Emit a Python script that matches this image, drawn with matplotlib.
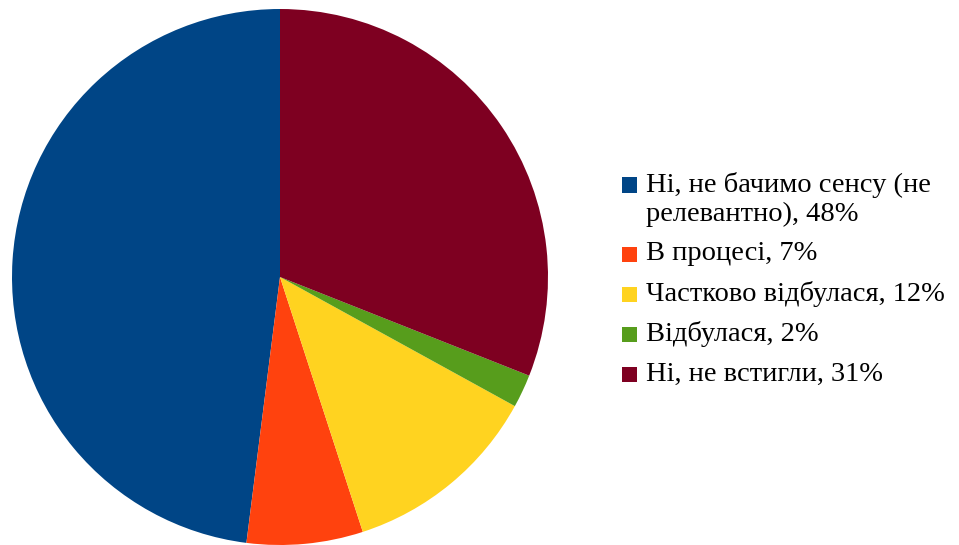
import matplotlib.pyplot as plt
from matplotlib.patches import Rectangle
from matplotlib import font_manager
from matplotlib.font_manager import FontProperties

labels = ['Ні, не бачимо сенсу (не\nрелевантно), 48%', 'В процесі, 7%',
          'Частково відбулася, 12%', 'Відбулася, 2%', 'Ні, не встигли, 31%']
values = [48, 7, 12, 2, 31]
colors = ['#004586', '#ff420e', '#ffd320', '#579d1c', '#7e0021']

# pick the Times-like serif file directly
serif_files = [f.fname for f in font_manager.fontManager.ttflist
               if 'liberationserif-regular' in f.fname.lower().replace('_', '')]
if serif_files:
    fp = FontProperties(fname=serif_files[0], size=20.5)
else:
    fp = FontProperties(family=['Liberation Serif', 'DejaVu Serif'], size=20.5)

W, H = 959, 545
fig = plt.figure(figsize=(W / 100, H / 100), dpi=100)

# pie: center (280, 277), radius 268 px
cx, cy, r = 280, 277, 268
ax = fig.add_axes([(cx - r) / W, (H - cy - r) / H, 2 * r / W, 2 * r / H])
ax.pie(values, colors=colors, startangle=90, counterclock=True,
       wedgeprops=dict(linewidth=0))
ax.set_xlim(-1, 1)
ax.set_ylim(-1, 1)
ax.set_aspect('equal')
ax.axis('off')

# legend drawn by hand
rows = [(185, 214), (254,), (294,), (334,), (374,)]
for lab, col, ys in zip(labels, colors, rows):
    lines = lab.split('\n')
    sq = 15
    fig.add_artist(Rectangle((622 / W, (H - ys[0] - sq / 2) / H), sq / W, sq / H,
                             transform=fig.transFigure, facecolor=col, edgecolor='none'))
    for y, t in zip(ys, lines):
        fig.text(646 / W, (H - y) / H, t, va='center', ha='left',
                 fontproperties=fp, color='black')

fig.savefig('out.png', dpi=100)
